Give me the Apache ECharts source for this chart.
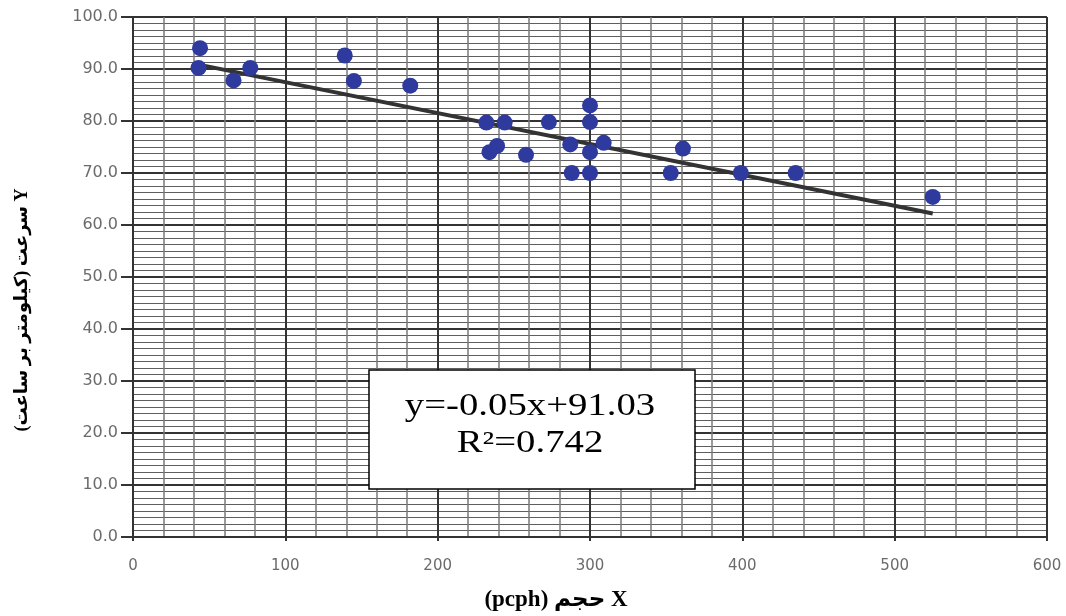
<!DOCTYPE html>
<html>
<head>
<meta charset="utf-8">
<script src="https://cdn.jsdelivr.net/npm/echarts@6/dist/echarts.min.js"></script>
<style>
  html, body { margin: 0; padding: 0; background: #fff; }
  #main { width: 1066px; height: 616px; }
</style>
</head>
<body>
<div id="main"></div>
<script>
// volume (pcph) and speed (km/h)
const volume = [44, 43, 66, 77, 139, 145, 182, 232, 244, 239, 234, 258, 273, 287, 288, 300, 300, 300, 300, 309, 361, 353, 399, 435, 525]
const speed = [94.0, 90.2, 87.8, 90.2, 92.6, 87.7, 86.8, 79.7, 79.7, 75.2, 74.0, 73.5, 79.8, 75.5, 70.0, 83.0, 79.8, 74.0, 70.0, 75.8, 74.7, 70.0, 70.0, 70.0, 65.4]
// fitted line as drawn
const trendX = [44, 525]
const trendY = [90.8, 62.2]

const eqText = 'y=-0.05x+91.03'
const r2Text = 'R²=0.742'
const yTitle = '\u200Fسرعت (کیلومتر بر ساعت)\u200F Y'
const xTitle = '(pcph) حجم X'

const points = volume.map((v, i) => [v, speed[i]])
const trend = trendX.map((v, i) => [v, trendY[i]])

const myChart = echarts.init(document.getElementById('main'))
myChart.setOption({
  animation: false,
  backgroundColor: '#fff',
  grid: { left: 133, right: 19, top: 17, bottom: 79 },
  xAxis: {
    type: 'value',
    min: 0,
    max: 600,
    interval: 100,
    axisLine: { show: true, lineStyle: { color: '#333', width: 2 } },
    axisTick: { show: true, length: 4, lineStyle: { color: '#333', width: 2 } },
    axisLabel: { margin: 22, color: '#6b6b6b', fontSize: 15, fontFamily: 'DejaVu Sans' },
    splitLine: { show: true, lineStyle: { color: '#333', width: 2 } },
    minorTick: { show: false, splitNumber: 5 },
    minorSplitLine: { show: true, lineStyle: { color: '#7a7a7a', width: 1.5 } }
  },
  yAxis: {
    type: 'value',
    min: 0,
    max: 100,
    interval: 10,
    axisLine: { show: true, lineStyle: { color: '#333', width: 2 } },
    axisTick: { show: true, length: 12, lineStyle: { color: '#333', width: 2 } },
    axisLabel: {
      margin: 15,
      color: '#6b6b6b',
      fontSize: 16,
      fontFamily: 'DejaVu Sans',
      formatter: (v) => v.toFixed(1)
    },
    splitLine: { show: true, lineStyle: { color: '#333', width: 2 } },
    minorTick: { show: false, splitNumber: 8 },
    minorSplitLine: { show: true, lineStyle: { color: '#5e5e5e', width: 1 } }
  },
  series: [
    {
      type: 'line',
      data: trend,
      symbol: 'none',
      lineStyle: { color: '#333', width: 4 },
      z: 3
    },
    {
      type: 'scatter',
      data: points,
      symbol: 'circle',
      symbolSize: 16,
      itemStyle: { color: '#2f3a9f', opacity: 1 },
      z: 4
    }
  ],
  graphic: [
    {
      type: 'rect',
      shape: { x: 369, y: 370, width: 326, height: 119 },
      style: { fill: '#fff', stroke: '#000', lineWidth: 1.5 },
      z: 10
    },
    {
      type: 'text',
      x: 530,
      y: 407,
      scaleX: 1.25,
      style: {
        text: eqText,
        font: '31px "Liberation Serif"',
        fill: '#000',
        textAlign: 'center',
        textVerticalAlign: 'middle'
      },
      z: 11
    },
    {
      type: 'text',
      x: 530,
      y: 444,
      scaleX: 1.25,
      style: {
        text: r2Text,
        font: '31px "Liberation Serif"',
        fill: '#000',
        textAlign: 'center',
        textVerticalAlign: 'middle'
      },
      z: 11
    },
    {
      type: 'text',
      x: 556,
      y: 600,
      style: {
        text: xTitle,
        font: 'bold 23px "Liberation Serif", "DejaVu Sans"',
        fill: '#000',
        textAlign: 'center',
        textVerticalAlign: 'middle'
      }
    },
    {
      type: 'text',
      x: 22,
      y: 310,
      rotation: Math.PI / 2,
      style: {
        text: yTitle,
        font: 'bold 18px "Liberation Serif", "DejaVu Sans"',
        fill: '#000',
        textAlign: 'center',
        textVerticalAlign: 'middle'
      }
    }
  ]
})
</script>
</body>
</html>
